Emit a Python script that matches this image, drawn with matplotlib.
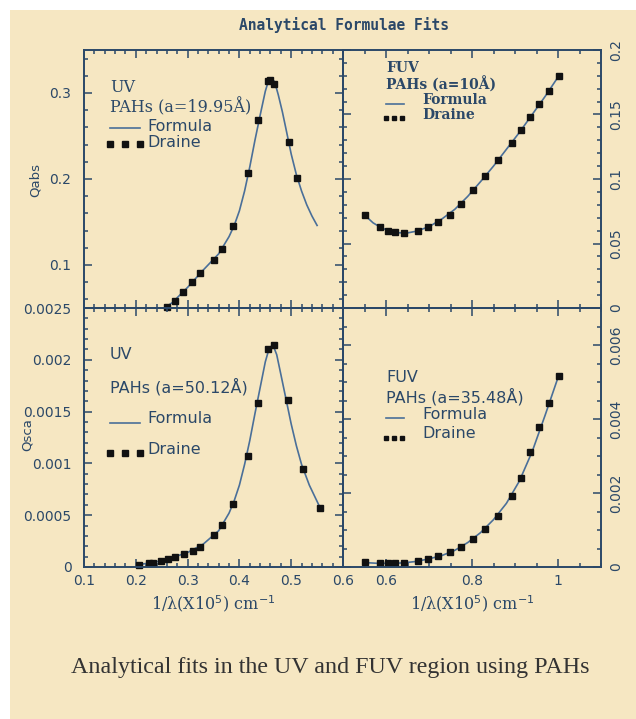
import matplotlib
matplotlib.use("Agg")
import matplotlib.pyplot as plt
from matplotlib.patches import Rectangle
from matplotlib.ticker import MultipleLocator, FormatStrFormatter

# ---- data ----
# UV, PAHs a=19.95A  (Qabs)
uv_abs_draine_x = [0.261, 0.276, 0.292, 0.309, 0.324, 0.350, 0.366, 0.388, 0.416,
                   0.435, 0.456, 0.459, 0.467, 0.495, 0.512]
uv_abs_draine_y = [0.0515, 0.0585, 0.069, 0.0806, 0.091, 0.1058, 0.119, 0.1457, 0.207,
                   0.269, 0.314, 0.315, 0.311, 0.243, 0.201]
uv_abs_formula_x = [0.255, 0.27, 0.30, 0.33, 0.36, 0.38, 0.39, 0.40, 0.41, 0.42, 0.43,
                    0.44, 0.45, 0.456, 0.462, 0.468, 0.475, 0.483, 0.49, 0.50, 0.51,
                    0.52, 0.53, 0.54, 0.55]
uv_abs_formula_y = [0.050, 0.056, 0.074, 0.094, 0.113, 0.133, 0.146, 0.163, 0.186, 0.214,
                    0.245, 0.274, 0.302, 0.314, 0.317, 0.313, 0.298, 0.278, 0.258, 0.229,
                    0.205, 0.186, 0.170, 0.157, 0.146]

# FUV, PAHs a=10A  (Qabs)
fuv_abs_draine_x = [0.550, 0.585, 0.605, 0.620, 0.642, 0.674, 0.697, 0.722, 0.748, 0.775,
                    0.802, 0.831, 0.860, 0.892, 0.913, 0.934, 0.956, 0.979, 1.002]
fuv_abs_draine_y = [0.0721, 0.063, 0.060, 0.059, 0.058, 0.060, 0.0625, 0.0667, 0.0724, 0.081,
                    0.0915, 0.102, 0.1147, 0.128, 0.138, 0.148, 0.158, 0.168, 0.180]
fuv_abs_formula_x = [0.550, 0.57, 0.59, 0.61, 0.63, 0.65, 0.67, 0.70, 0.73, 0.76, 0.79,
                     0.82, 0.85, 0.88, 0.91, 0.94, 0.97, 1.0, 1.005]
fuv_abs_formula_y = [0.0721, 0.066, 0.062, 0.0595, 0.0583, 0.0582, 0.0595, 0.063, 0.069,
                     0.0765, 0.0865, 0.098, 0.110, 0.123, 0.136, 0.150, 0.164, 0.179, 0.181]

# UV, PAHs a=50.12A  (Qsca)
uv_sca_draine_x = [0.207, 0.226, 0.234, 0.248, 0.263, 0.276, 0.293, 0.310, 0.324, 0.351,
                   0.367, 0.388, 0.416, 0.435, 0.456, 0.467, 0.494, 0.523, 0.556]
uv_sca_draine_y = [0.00002, 0.000036, 0.000042, 0.000058, 0.000074, 0.000094, 0.000122,
                   0.000157, 0.000196, 0.000309, 0.000405, 0.000605, 0.001075, 0.00158,
                   0.0021, 0.00214, 0.00161, 0.00095, 0.000572]
uv_sca_formula_x = [0.215, 0.24, 0.27, 0.30, 0.33, 0.36, 0.38, 0.39, 0.40, 0.41, 0.42,
                    0.43, 0.44, 0.45, 0.458, 0.465, 0.472, 0.48, 0.49, 0.50, 0.51, 0.52,
                    0.535, 0.556]
uv_sca_formula_y = [0.00003, 0.00005, 0.00009, 0.00014, 0.00022, 0.00035, 0.00052, 0.00064,
                    0.00079, 0.00099, 0.00122, 0.00148, 0.00173, 0.00198, 0.00212, 0.00214,
                    0.00205, 0.00186, 0.00162, 0.00138, 0.00117, 0.00099, 0.00079, 0.00057]

# FUV, PAHs a=35.48A  (Qsca)
fuv_sca_draine_x = fuv_abs_draine_x
fuv_sca_draine_y = [0.000143, 0.0001, 0.0001, 0.0001, 0.000117, 0.000162, 0.000225, 0.000297,
                    0.000405, 0.00055, 0.00075, 0.00102, 0.00138, 0.00192, 0.00241, 0.0031,
                    0.00379, 0.00442, 0.00516]
fuv_sca_formula_x = [0.550, 0.58, 0.61, 0.64, 0.67, 0.70, 0.73, 0.76, 0.79, 0.82, 0.85,
                     0.88, 0.91, 0.94, 0.97, 1.0]
fuv_sca_formula_y = [0.00012, 0.00010, 0.00010, 0.00011, 0.00015, 0.00022, 0.00031, 0.00045,
                     0.00066, 0.00093, 0.00128, 0.00172, 0.00232, 0.00312, 0.00410, 0.00512]

title = "Analytical Formulae Fits"
caption = "Analytical fits in the UV and FUV region using PAHs"
xlab = "1/\u03bb(X10$^5$) cm$^{-1}$"

BG = "#f6e7c2"
INK = "#2b4868"
LINE = "#4a6f99"

W, H = 636, 719
fig = plt.figure(figsize=(W / 100, H / 100), dpi=100)
fig.patch.set_facecolor("white")
fig.patches.append(Rectangle((10 / W, 0), 1, 1 - 10 / H, transform=fig.transFigure,
                             facecolor=BG, edgecolor="none", zorder=-10))


def box(x0, y0, x1, y1):
    return [x0 / W, 1 - y1 / H, (x1 - x0) / W, (y1 - y0) / H]


ax_tl = fig.add_axes(box(84, 50, 343, 308))
ax_tr = fig.add_axes(box(343, 50, 601, 308))
ax_bl = fig.add_axes(box(84, 308, 343, 567))
ax_br = fig.add_axes(box(343, 308, 601, 567))


def style(ax, xlim, ylim, xmaj, xmin, ymaj, ymin, ylab_side, show_x):
    ax.set_facecolor("none")
    ax.set_xlim(*xlim)
    ax.set_ylim(*ylim)
    ax.xaxis.set_major_locator(MultipleLocator(xmaj))
    ax.xaxis.set_minor_locator(MultipleLocator(xmin))
    ax.yaxis.set_major_locator(MultipleLocator(ymaj))
    ax.yaxis.set_minor_locator(MultipleLocator(ymin))
    ax.xaxis.set_major_formatter(FormatStrFormatter("%g"))
    ax.yaxis.set_major_formatter(FormatStrFormatter("%g"))
    for s in ax.spines.values():
        s.set_color(INK)
        s.set_linewidth(1.4)
    ax.tick_params(which="both", direction="in", top=True, bottom=True, left=True,
                   right=True, color=INK, width=1.1, labelcolor=INK, labelsize=10)
    ax.tick_params(which="major", length=5.5)
    ax.tick_params(which="minor", length=3)
    ax.tick_params(axis="x", labelbottom=show_x, pad=5)
    if ylab_side == "left":
        ax.tick_params(axis="y", labelleft=True, labelright=False, pad=9)
    else:
        ax.tick_params(axis="y", labelleft=False, labelright=True, pad=6)
        for t in ax.get_yticklabels():
            t.set_rotation(90)
            t.set_va("center")


style(ax_tl, (0.1, 0.6), (0.05, 0.35), 0.1, 0.02, 0.1, 0.02, "left", False)
style(ax_bl, (0.1, 0.6), (0, 0.0025), 0.1, 0.02, 0.0005, 0.0001, "left", True)
style(ax_tr, (0.5, 1.1), (0, 0.2), 0.2, 0.05, 0.05, 0.01, "right", False)
style(ax_br, (0.5, 1.1), (0, 0.007), 0.2, 0.05, 0.002, 0.0005, "right", True)

panels = [
    (ax_tl, uv_abs_formula_x, uv_abs_formula_y, uv_abs_draine_x, uv_abs_draine_y),
    (ax_tr, fuv_abs_formula_x, fuv_abs_formula_y, fuv_abs_draine_x, fuv_abs_draine_y),
    (ax_bl, uv_sca_formula_x, uv_sca_formula_y, uv_sca_draine_x, uv_sca_draine_y),
    (ax_br, fuv_sca_formula_x, fuv_sca_formula_y, fuv_sca_draine_x, fuv_sca_draine_y),
]
for ax, fx, fy, dx, dy in panels:
    ax.plot(fx, fy, color=LINE, lw=1.2, clip_on=True)
    ax.plot(dx, dy, ls="none", marker="s", ms=3.8, color="#111111", clip_on=False)


def legend(ax, lines, line_x, line_y, dot_x, dot_y, txt_x, ftxt_y, dtxt_y,
           fam1, fam2, fs, ms, weight="normal"):
    for (s, y) in lines:
        ax.text(line_x[0], y, s, transform=ax.transAxes, ha="left", va="center",
                color=INK, fontsize=fs, family=fam1, fontweight=weight)
    ax.plot(line_x, [line_y, line_y], transform=ax.transAxes, color=LINE, lw=1.2)
    ax.plot(dot_x, [dot_y] * len(dot_x), transform=ax.transAxes, ls="none",
            marker="s", ms=ms, color="#111111")
    ax.text(txt_x, ftxt_y, "Formula", transform=ax.transAxes, ha="left", va="center",
            color=INK, fontsize=fs, family=fam2, fontweight=weight)
    ax.text(txt_x, dtxt_y, "Draine", transform=ax.transAxes, ha="left", va="center",
            color=INK, fontsize=fs, family=fam2, fontweight=weight)


legend(ax_tl, [("UV", 0.853), ("PAHs (a=19.95\u00c5)", 0.779)],
       (0.100, 0.216), 0.698, [0.100, 0.158, 0.216], 0.636, 0.243, 0.705, 0.643,
       "DejaVu Serif", "DejaVu Sans", 11.5, 3.8)
legend(ax_bl, [("UV", 0.819), ("PAHs (a=50.12\u00c5)", 0.695)],
       (0.100, 0.216), 0.556, [0.100, 0.158, 0.216], 0.440, 0.243, 0.575, 0.452,
       "DejaVu Sans", "DejaVu Sans", 11.5, 3.8)
legend(ax_tr, [("FUV", 0.930), ("PAHs (a=10\u00c5)", 0.868)],
       (0.167, 0.236), 0.791, [0.167, 0.197, 0.227], 0.736, 0.306, 0.806, 0.748,
       "DejaVu Serif", "DejaVu Serif", 10, 3.0, "bold")
legend(ax_br, [("FUV", 0.730), ("PAHs (a=35.48\u00c5)", 0.656)],
       (0.167, 0.236), 0.575, [0.167, 0.197, 0.227], 0.498, 0.306, 0.587, 0.517,
       "DejaVu Sans", "DejaVu Sans", 11.5, 3.0)

fig.text(344 / W, 1 - 25 / H, title, ha="center", va="center", color=INK,
         fontsize=10.5, fontweight="bold", family="DejaVu Sans Mono")
fig.text(35 / W, 1 - 180 / H, "Qabs", rotation=90, ha="center", va="center",
         color=INK, fontsize=9.5)
fig.text(27 / W, 1 - 435 / H, "Qsca", rotation=90, ha="center", va="center",
         color=INK, fontsize=9.5)
fig.text(213 / W, 1 - 604 / H, xlab, ha="center", va="center", color=INK,
         fontsize=11.5, family="DejaVu Serif")
fig.text(472 / W, 1 - 604 / H, xlab, ha="center", va="center", color=INK,
         fontsize=11.5, family="DejaVu Serif")
fig.text(330 / W, 1 - 667 / H, caption, ha="center", va="center", color="#333333",
         fontsize=17.3, family="Liberation Serif")

fig.savefig("out.png", dpi=100, facecolor=fig.get_facecolor())
